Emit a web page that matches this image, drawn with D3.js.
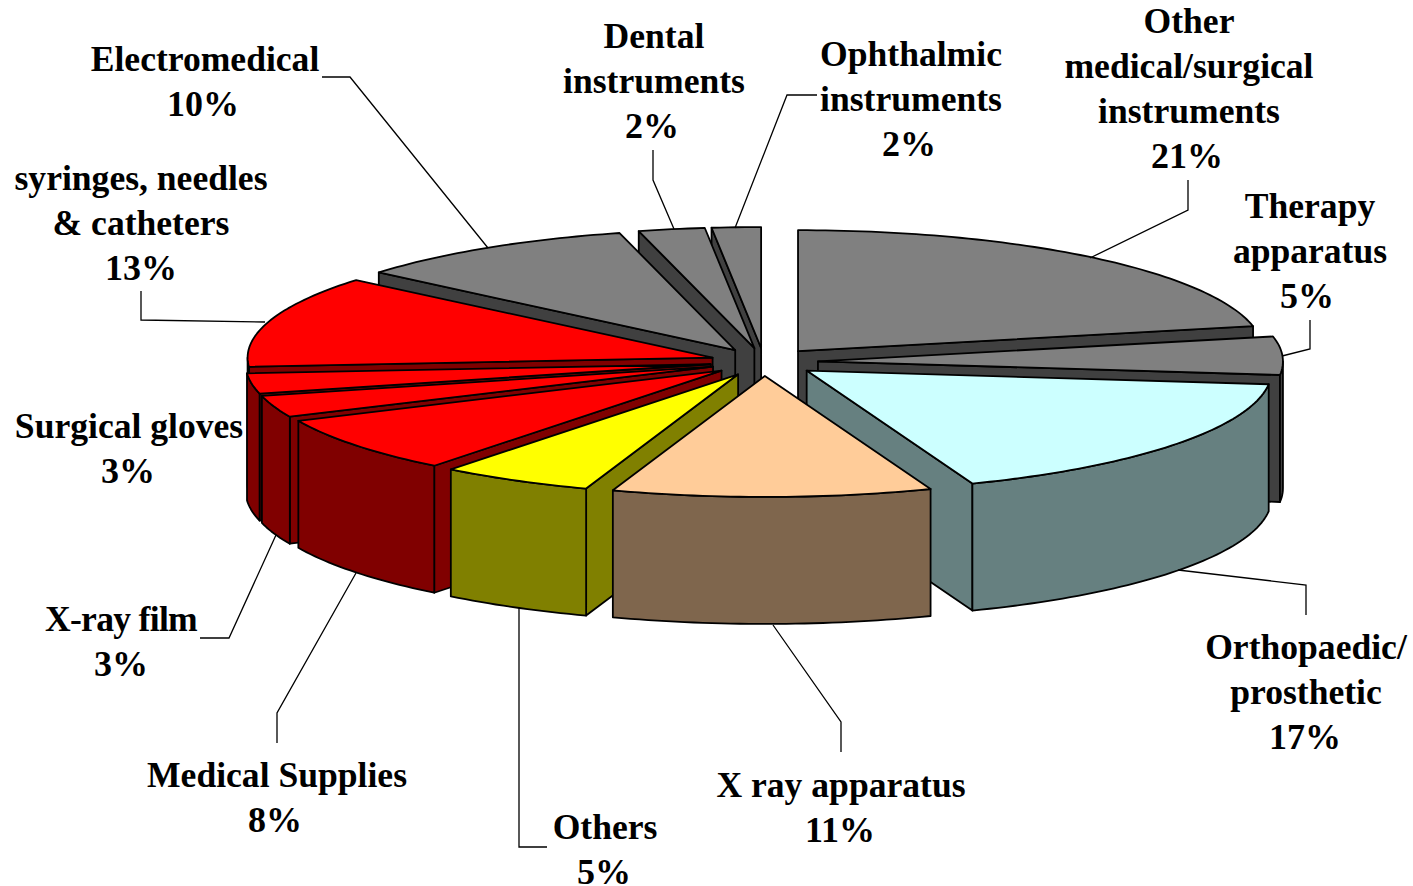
<!DOCTYPE html>
<html>
<head>
<meta charset="utf-8">
<script src="https://cdnjs.cloudflare.com/ajax/libs/d3/7.8.5/d3.min.js"></script>
<style>
body { margin: 0; background: #fff; }
svg { display: block; }
text { font-family: "Liberation Serif", serif; font-weight: bold; font-size: 35.6px; fill: #000; text-anchor: middle; }
text.pct { font-size: 36px; }
</style>
</head>
<body>
<div id="chart"></div>
<script>
// DATA (clockwise from 12 o'clock)
const categories = ["Other medical/surgical instruments", "Therapy apparatus", "Orthopaedic/ prosthetic", "X ray apparatus", "Others", "Medical Supplies", "X-ray film", "Surgical gloves", "syringes, needles & catheters", "Electromedical", "Dental instruments", "Ophthalmic instruments"]
const values = [21.7, 5.1, 17.4, 11.1, 5.3, 7.6, 2.9, 2.7, 12.3, 9.9, 2.3, 1.7]
const percentLabels = ["21%", "5%", "17%", "11%", "5%", "8%", "3%", "3%", "13%", "10%", "2%", "2%"]
const labelLines = [
    ["Other", "medical/surgical", "instruments"],
    ["Therapy", "apparatus"],
    ["Orthopaedic/", "prosthetic"],
    ["X ray apparatus"],
    ["Others"],
    ["Medical Supplies"],
    ["X-ray film"],
    ["Surgical gloves"],
    ["syringes, needles", "& catheters"],
    ["Electromedical"],
    ["Dental", "instruments"],
    ["Ophthalmic", "instruments"]
]

// COLORS
const topColors = ["#808080", "#808080", "#ccffff", "#ffcc99", "#ffff00", "#ff0000", "#ff0000", "#ff0000", "#ff0000", "#808080", "#808080", "#808080"]
const sideColors = ["#404040", "#404040", "#668080", "#7f664d", "#808000", "#800000", "#800000", "#800000", "#800000", "#404040", "#404040", "#404040"]

// LAYOUT
const width = 1413
const height = 886
const cx = 764
const cy = 362
const radiusX = 465
const tilt = 0.26
const depth = 127
const explode = 54
const lineGap = 45

// label anchor: x centre, baseline of the first line, x centre of the percent line
const labelPos = [
    [1189, 33, 1187], [1310, 217.5, 1307], [1306, 658.5, 1305], [841, 796.5, 840],
    [605, 839, 604], [277, 787, 275], [121, 631, 121], [129, 438, 128],
    [141, 189.5, 141], [205, 71, 203], [654, 47.5, 652], [911, 66, 909]
]

// leader lines
const leaders = [
    [[1188, 180], [1188, 210], [1090, 258]],
    [[1310, 320], [1310, 349], [1282, 356]],
    [[1306, 615], [1306, 585], [1178, 570]],
    [[841, 752], [841, 722], [773, 625]],
    [[547, 847], [519, 847], [519, 608]],
    [[277, 743], [277, 713], [356, 573]],
    [[200, 638], [229, 638], [276, 535]],
    [],
    [[141, 291], [141, 320], [265, 322]],
    [[322, 77], [350, 77], [488, 248]],
    [[653, 150], [653, 180], [674, 229]],
    [[817, 95], [787, 95], [735, 228]]
]

const svg = d3.select("#chart")
    .append("svg")
    .attr("width", width)
    .attr("height", height)

const pie = d3.pie().sort(null).value(d => d)
const arcs = pie(values).map((a, i) => ({ ...a, i: i, mid: (a.startAngle + a.endAngle) / 2 }))

const line = d3.line()

// project a point of the slice (angle, radius, drop below the top face)
function project(a, angle, r, drop) {
    const ox = explode * Math.sin(a.mid)
    const oy = -explode * Math.cos(a.mid) * tilt
    return [
        cx + ox + r * Math.sin(angle),
        cy + oy - r * Math.cos(angle) * tilt + drop
    ]
}

function rim(a, from, to, drop) {
    const n = Math.max(2, Math.ceil((to - from) / 0.02))
    return d3.range(n + 1).map(k => project(a, from + (to - from) * k / n, radiusX, drop))
}

// DRAW SLICES back to front
const slices = svg.append("g")
    .selectAll("g")
    .data(arcs.slice().sort((p, q) => Math.cos(q.mid) - Math.cos(p.mid)))
    .join("g")
    .attr("stroke", "#000")
    .attr("stroke-width", 1.8)
    .attr("stroke-linejoin", "round")

slices.each(function (a) {
    const g = d3.select(this)
    const tip = project(a, 0, 0, 0)
    const tipLow = project(a, 0, 0, depth)
    const walls = []

    // radial walls that face the viewer
    if (Math.sin(a.startAngle) < 0) {
        walls.push([tip, project(a, a.startAngle, radiusX, 0), project(a, a.startAngle, radiusX, depth), tipLow])
    }
    if (Math.sin(a.endAngle) > 0) {
        walls.push([tip, project(a, a.endAngle, radiusX, 0), project(a, a.endAngle, radiusX, depth), tipLow])
    }

    // outer wall, front half only
    const from = Math.max(a.startAngle, Math.PI / 2)
    const to = Math.min(a.endAngle, Math.PI * 1.5)
    if (to > from) {
        walls.push(rim(a, from, to, 0).concat(rim(a, from, to, depth).reverse()))
    }

    walls.forEach(w => {
        g.append("path")
            .attr("d", line(w) + "Z")
            .attr("fill", sideColors[a.i])
    })

    // top face
    g.append("path")
        .attr("d", line([tip].concat(rim(a, a.startAngle, a.endAngle, 0))) + "Z")
        .attr("fill", topColors[a.i])
})

// DRAW LEADER LINES
svg.append("g")
    .selectAll("path")
    .data(leaders.filter(d => d.length))
    .join("path")
    .attr("d", d => line(d))
    .attr("fill", "none")
    .attr("stroke", "#000")
    .attr("stroke-width", 1.3)

// DRAW LABELS
const labels = svg.append("g")
    .selectAll("g")
    .data(categories)
    .join("g")

labels.each(function (d, i) {
    const g = d3.select(this)
    const [x, y, px] = labelPos[i]
    labelLines[i].forEach((t, k) => {
        g.append("text")
            .attr("x", x)
            .attr("y", y + k * lineGap)
            .style("letter-spacing", t === "X-ray film" ? "-0.7px" : null) // reference sets this one tighter
            .text(t)
    })
    g.append("text")
        .attr("class", "pct")
        .attr("x", px)
        .attr("y", y + labelLines[i].length * lineGap)
        .text(percentLabels[i])
})
</script>
</body>
</html>
